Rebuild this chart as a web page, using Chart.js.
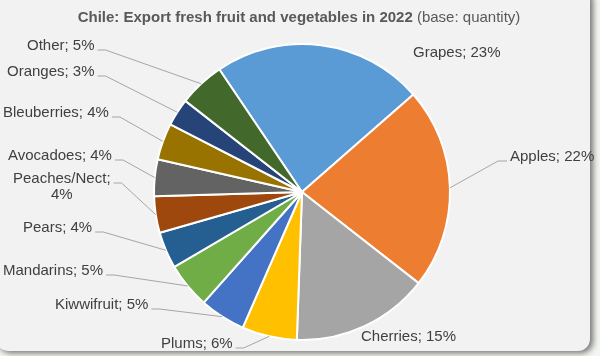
<!DOCTYPE html>
<html><head><meta charset="utf-8">
<script src="https://cdn.jsdelivr.net/npm/chart.js@4"></script>
<style>html,body{margin:0;padding:0;background:#f4f6f1;overflow:hidden}#wrap{width:600px;height:356px;position:relative}</style>
</head><body><div id="wrap"><canvas id="c" width="600" height="356"></canvas></div>
<script>
const titleBold = 'Chile: Export fresh fruit and vegetables in 2022';
const titleNormal = ' (base: quantity)';
const categories = ['Grapes','Apples','Cherries','Plums','Kiwwifruit','Mandarins','Pears','Peaches/Nect','Avocadoes','Bleuberries','Oranges','Other'];
const shares = [23,22,15,6,5,5,4,4,4,4,3,5];
const sliceColors = ['#5B9BD5','#ED7D31','#A5A5A5','#FFC000','#4472C4','#70AD47','#255E91','#9E480E','#636363','#997300','#264478','#43682B'];
// label layout: left x, centre y, side of leader line (null = none)
const labelLayout = [
  {x:413,y:53,side:null},
  {x:510,y:157,side:'right'},
  {x:361,y:337,side:null},
  {x:161,y:344,side:'left'},
  {x:55,y:305,side:'left'},
  {x:3,y:271,side:'left'},
  {x:23,y:228,side:'left'},
  {x:13,y:179,side:'left',wrap:true},
  {x:8,y:156,side:'left'},
  {x:3,y:113,side:'left'},
  {x:7,y:72,side:'left'},
  {x:27,y:46,side:'left'}
];
const FONT = '"Liberation Sans", Arial, sans-serif';

const bgPlugin = {
  id:'bg',
  beforeDraw(chart){
    const ctx = chart.ctx;
    ctx.save();
    ctx.fillStyle = '#f4f6f1';
    ctx.fillRect(0,0,600,356);
    ctx.shadowColor = 'rgba(0,0,0,0.55)';
    ctx.shadowBlur = 6;
    ctx.shadowOffsetX = 3;
    ctx.shadowOffsetY = 2;
    ctx.fillStyle = '#f2f2f2';
    ctx.beginPath();
    ctx.roundRect(-4,-12,594,363,12);
    ctx.fill();
    ctx.restore();
  }
};

const labelPlugin = {
  id:'labels',
  afterDatasetsDraw(chart){
    const ctx = chart.ctx;
    const meta = chart.getDatasetMeta(0);
    const total = shares.reduce((a,b)=>a+b,0);
    ctx.save();
    ctx.font = '15px ' + FONT;
    ctx.textBaseline = 'middle';
    meta.data.forEach((arc,i)=>{
      const L = labelLayout[i];
      const pct = Math.round(shares[i]/total*100) + '%';
      let w;
      ctx.fillStyle = '#404040';
      if (L.wrap){
        const l1 = categories[i] + ';';
        w = ctx.measureText(l1).width;
        ctx.textAlign = 'left';
        ctx.fillText(l1, L.x, L.y);
        ctx.textAlign = 'center';
        ctx.fillText(pct, L.x + w/2, L.y + 16);
      } else {
        const t = categories[i] + '; ' + pct;
        w = ctx.measureText(t).width;
        ctx.textAlign = 'left';
        ctx.fillText(t, L.x, L.y);
      }
      if (L.side){
        const p = arc.getProps(['x','y','startAngle','endAngle','outerRadius'], true);
        const mid = (p.startAngle + p.endAngle)/2;
        const ax = p.x + Math.cos(mid)*p.outerRadius;
        const ay = p.y + Math.sin(mid)*p.outerRadius;
        let sx, ex;
        const ly = L.y + 4;
        if (L.side === 'left'){ sx = L.x + w + 3; ex = sx + 8; }
        else { sx = L.x - 3; ex = sx - 9; }
        ctx.strokeStyle = '#a6a6a6';
        ctx.lineWidth = 1;
        ctx.beginPath();
        ctx.moveTo(sx, ly);
        ctx.lineTo(ex, ly);
        ctx.lineTo(ax, ay);
        ctx.stroke();
      }
    });
    // title
    ctx.textAlign = 'left';
    ctx.font = 'bold 15px ' + FONT;
    const wb = ctx.measureText(titleBold).width;
    ctx.font = '15px ' + FONT;
    const wn = ctx.measureText(titleNormal).width;
    const x0 = 299 - (wb+wn)/2;
    ctx.fillStyle = '#595959';
    ctx.font = 'bold 15px ' + FONT;
    ctx.fillText(titleBold, x0, 18);
    ctx.font = '15px ' + FONT;
    ctx.fillText(titleNormal, x0 + wb, 18);
    ctx.restore();
  }
};

new Chart(document.getElementById('c'), {
  type:'pie',
  data:{
    labels: categories,
    datasets:[{
      data: shares,
      backgroundColor: sliceColors,
      borderColor:'#ffffff',
      borderWidth:2
    }]
  },
  options:{
    responsive:false,
    animation:false,
    rotation:-34,
    layout:{padding:{top:43,bottom:15,left:153,right:149}},
    plugins:{legend:{display:false},tooltip:{enabled:false},title:{display:false}}
  },
  plugins:[bgPlugin,labelPlugin]
});
</script>
</body></html>
